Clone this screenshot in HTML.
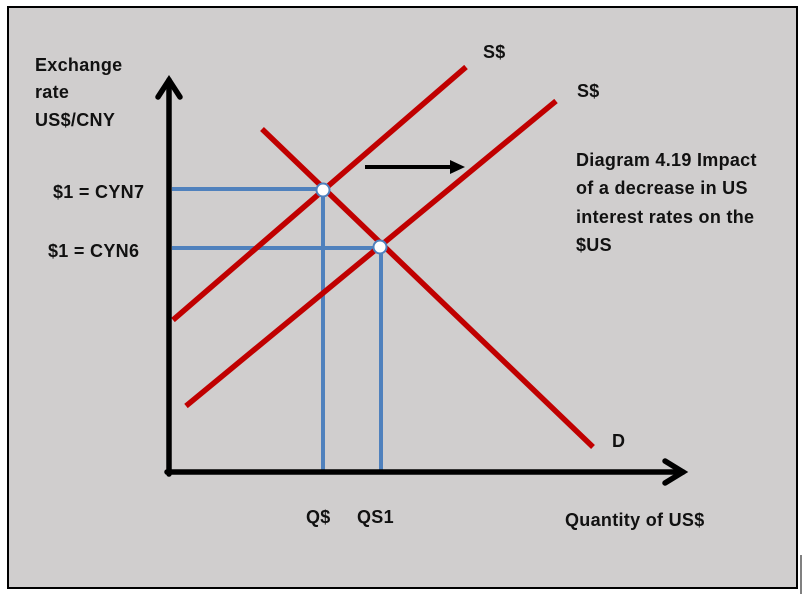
<!DOCTYPE html>
<html><head><style>
html,body{margin:0;padding:0;background:#fff;}
svg text{font-family:"Liberation Sans",sans-serif;font-weight:bold;font-size:18px;fill:#111;letter-spacing:0.3px;}
</style></head><body>
<svg width="804" height="594" xmlns="http://www.w3.org/2000/svg">
<rect x="0" y="0" width="804" height="594" fill="#fff"/>
<rect x="8" y="7" width="789" height="581" fill="#d0cece" stroke="#000" stroke-width="2"/>
<line x1="801" y1="555" x2="801" y2="594" stroke="#000" stroke-width="1"/>
<g stroke="#4f81bd" stroke-width="4">
<line x1="172" y1="189" x2="323" y2="189"/>
<line x1="323" y1="189" x2="323" y2="472"/>
<line x1="172" y1="248" x2="381" y2="248"/>
<line x1="381" y1="248" x2="381" y2="472"/>
</g>
<g stroke="#c00000" stroke-width="5.5">
<line x1="173" y1="320" x2="466" y2="67"/>
<line x1="186" y1="406" x2="556" y2="101"/>
<line x1="262" y1="129" x2="593" y2="447"/>
</g>
<circle cx="323" cy="190" r="6.5" fill="#fff" stroke="#4f81bd" stroke-width="2"/>
<circle cx="380" cy="247" r="6.5" fill="#fff" stroke="#4f81bd" stroke-width="2"/>
<g stroke="#000" stroke-width="5.5" fill="none" stroke-linecap="round">
<line x1="169" y1="474" x2="169" y2="80"/>
<polyline points="158,97 169,80 180,97"/>
<line x1="167" y1="472" x2="683" y2="472"/>
<polyline points="665,461 683,472 665,483"/>
</g>
<line x1="365" y1="167" x2="452" y2="167" stroke="#000" stroke-width="4"/>
<polygon points="450,160 465,167 450,174" fill="#000"/>
<text x="35" y="71">Exchange</text>
<text x="35" y="98">rate</text>
<text x="35" y="126">US$/CNY</text>
<text x="53" y="198">$1 = CYN7</text>
<text x="48" y="257">$1 = CYN6</text>
<text x="483" y="58">S$</text>
<text x="577" y="97">S$</text>
<text x="576" y="166">Diagram 4.19 Impact</text>
<text x="576" y="194">of a decrease in US</text>
<text x="576" y="223">interest rates on the</text>
<text x="576" y="251">$US</text>
<text x="612" y="447">D</text>
<text x="306" y="523">Q$</text>
<text x="357" y="523">QS1</text>
<text x="565" y="526">Quantity of US$</text>
</svg>
</body></html>
